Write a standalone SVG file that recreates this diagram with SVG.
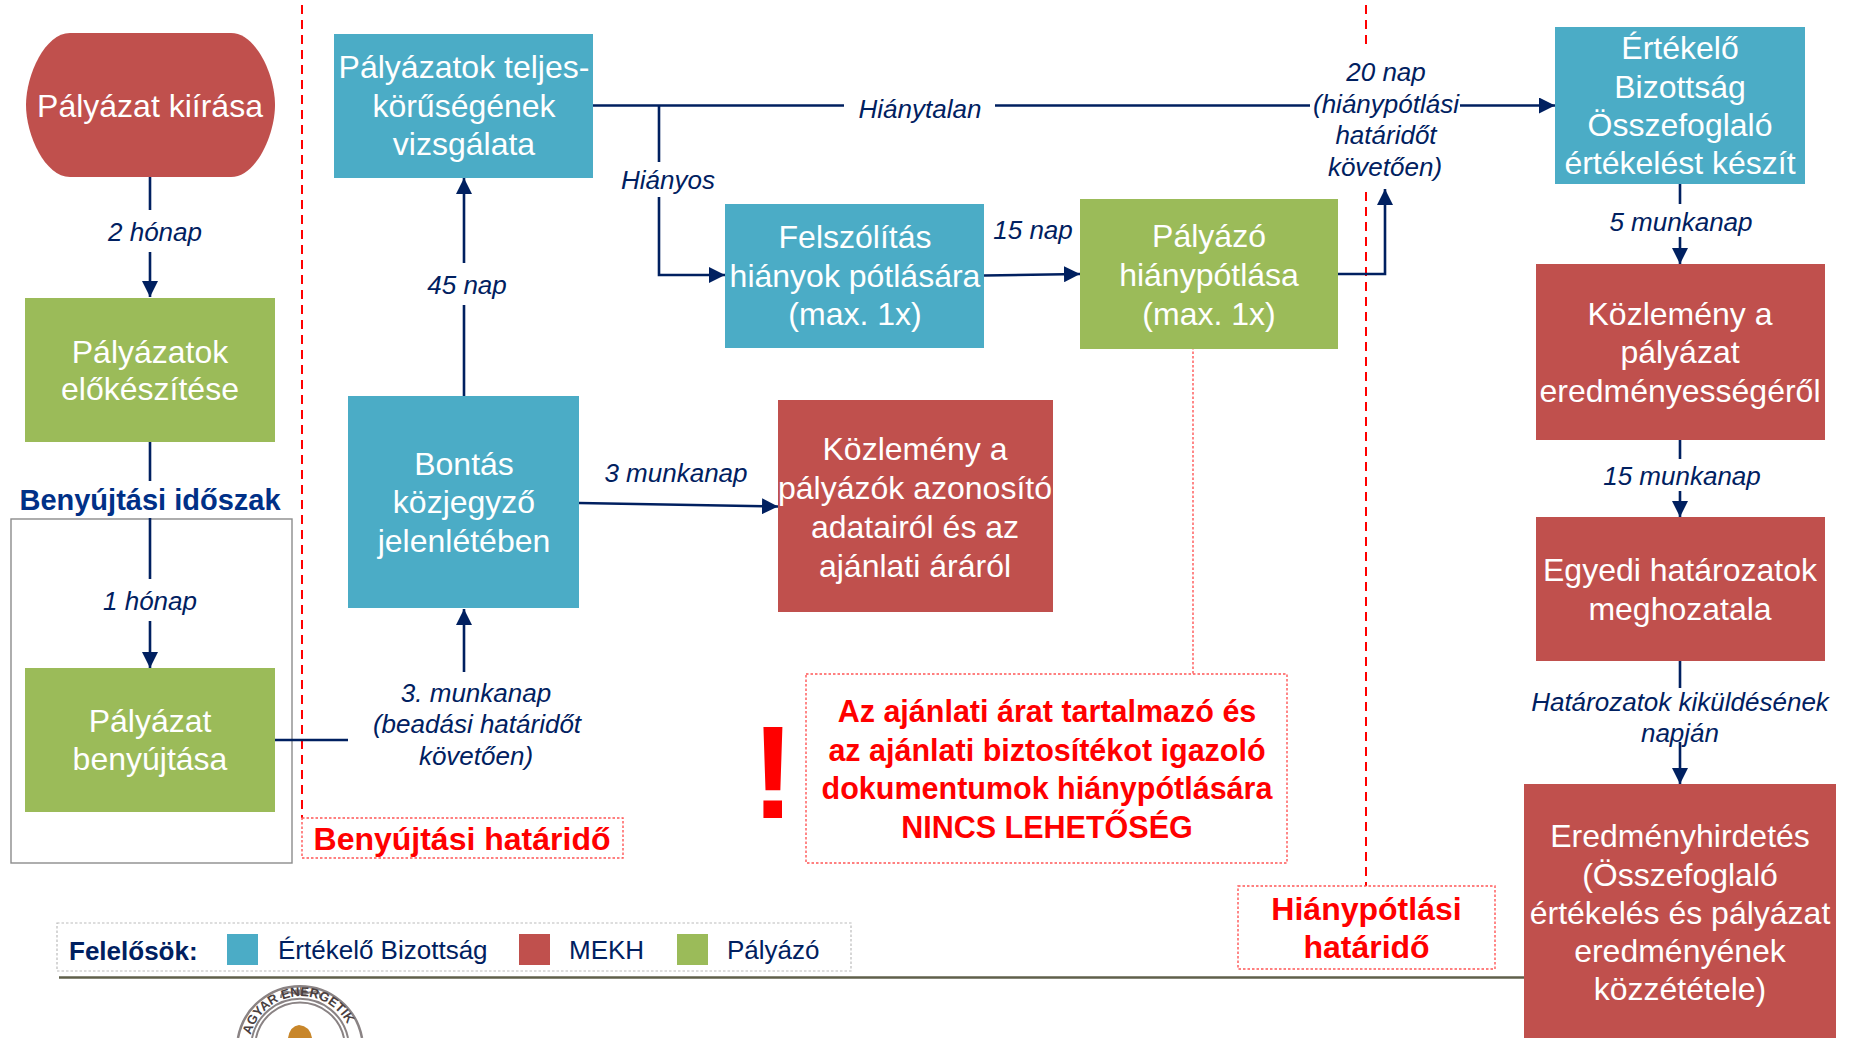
<svg xmlns="http://www.w3.org/2000/svg" width="1858" height="1038" viewBox="0 0 1858 1038">
<style>
.t{font-family:"Liberation Sans",Arial,sans-serif;font-size:32px;fill:#fff;text-anchor:middle}
.l{font-family:"Liberation Sans",Arial,sans-serif;font-size:26px;font-style:italic;fill:#002060;text-anchor:middle}
.r{font-family:"Liberation Sans",Arial,sans-serif;font-size:32px;font-weight:bold;fill:#f00;text-anchor:middle}
.k{font-family:"Liberation Sans",Arial,sans-serif;font-size:26px;fill:#002060}
.c{fill:none;stroke:#002060;stroke-width:2.6}
.blue{fill:#4bacc6}.red{fill:#c0504d}.green{fill:#9bbb59}
.dash{fill:none;stroke:#f00;stroke-width:2;stroke-dasharray:9 6}
.dot{fill:#fff;stroke:#f55;stroke-width:1.4;stroke-dasharray:2.5 2}
</style>
<defs><marker id="a" markerUnits="userSpaceOnUse" markerWidth="16" markerHeight="16" refX="16" refY="8" orient="auto"><path d="M0 0L16 8L0 16Z" fill="#002060"/></marker></defs>
<rect x="11" y="519" width="281" height="344" fill="#fff" stroke="#8c8c8c" stroke-width="1.4"/>
<g id="guides">
<path class="dash" d="M302 5V818"/>
<path class="dash" d="M1366 5V49M1366 192V886"/>
<path d="M1193 347V674" fill="none" stroke="#f55" stroke-width="1.4" stroke-dasharray="2.5 2"/>
</g>
<g id="connectors">
<path class="c" d="M150 177V210M150 252V297" marker-end="url(#a)"/>
<path class="c" d="M150 442V481M150 518V579M150 621V668" marker-end="url(#a)"/>
<path class="c" d="M275 740H348"/>
<path class="c" d="M464 672V609" marker-end="url(#a)"/>
<path class="c" d="M464 396V305M464 263V178" marker-end="url(#a)"/>
<path class="c" d="M579 503L778 506.500" marker-end="url(#a)"/>
<path class="c" d="M593 105.500H844M995 105.500H1310M1460 105.500H1555" marker-end="url(#a)"/>
<path class="c" d="M659 105.500V162M659 197V275H725" marker-end="url(#a)"/>
<path class="c" d="M984 275.500L1080 274" marker-end="url(#a)"/>
<path class="c" d="M1338 274H1385V189" marker-end="url(#a)"/>
<path class="c" d="M1680 184V204M1680 237V264" marker-end="url(#a)"/>
<path class="c" d="M1680 440V459M1680 491V517" marker-end="url(#a)"/>
<path class="c" d="M1680 661V688M1680 742V784" marker-end="url(#a)"/>
</g>
<g id="n1"><path class="red" d="M70 33H231C256 33 275 75 275 105C275 135 256 177 231 177H70C45 177 26 135 26 105C26 75 45 33 70 33Z"/><text class="t" x="150" y="117">Pályázat kiírása</text></g>
<g id="n2"><rect class="green" x="25" y="298" width="250" height="144"/><text class="t" x="150" y="363">Pályázatok</text><text class="t" x="150" y="400">előkészítése</text></g>
<g id="n3"><rect class="green" x="25" y="668" width="250" height="144"/><text class="t" x="150" y="732">Pályázat</text><text class="t" x="150" y="770">benyújtása</text></g>
<g id="n4"><rect class="blue" x="334" y="34" width="259" height="144"/><text class="t" x="464" y="78">Pályázatok teljes-</text><text class="t" x="464" y="117">körűségének</text><text class="t" x="464" y="155">vizsgálata</text></g>
<g id="n5"><rect class="blue" x="348" y="396" width="231" height="212"/><text class="t" x="464" y="475">Bontás</text><text class="t" x="464" y="513">közjegyző</text><text class="t" x="464" y="552">jelenlétében</text></g>
<g id="n6"><rect class="blue" x="725" y="204" width="259" height="144"/><text class="t" x="855" y="248">Felszólítás</text><text class="t" x="855" y="287">hiányok pótlására</text><text class="t" x="855" y="325">(max. 1x)</text></g>
<g id="n7"><rect class="green" x="1080" y="199" width="258" height="150"/><text class="t" x="1209" y="247">Pályázó</text><text class="t" x="1209" y="286">hiánypótlása</text><text class="t" x="1209" y="325">(max. 1x)</text></g>
<g id="n8"><rect class="red" x="778" y="400" width="275" height="212"/><text class="t" x="915" y="460">Közlemény a</text><text class="t" x="915" y="499">pályázók azonosító</text><text class="t" x="915" y="538">adatairól és az</text><text class="t" x="915" y="577">ajánlati áráról</text></g>
<g id="n9"><rect class="blue" x="1555" y="27" width="250" height="157"/><text class="t" x="1680" y="59">Értékelő</text><text class="t" x="1680" y="98">Bizottság</text><text class="t" x="1680" y="136">Összefoglaló</text><text class="t" x="1680" y="174">értékelést készít</text></g>
<g id="n10"><rect class="red" x="1536" y="264" width="289" height="176"/><text class="t" x="1680" y="325">Közlemény a</text><text class="t" x="1680" y="363">pályázat</text><text class="t" x="1680" y="402">eredményességéről</text></g>
<g id="n11"><rect class="red" x="1536" y="517" width="289" height="144"/><text class="t" x="1680" y="581">Egyedi határozatok</text><text class="t" x="1680" y="620">meghozatala</text></g>
<g id="n12"><rect class="red" x="1524" y="784" width="312" height="254"/><text class="t" x="1680" y="847">Eredményhirdetés</text><text class="t" x="1680" y="886">(Összefoglaló</text><text class="t" x="1680" y="924">értékelés és pályázat</text><text class="t" x="1680" y="962">eredményének</text><text class="t" x="1680" y="1000">közzététele)</text></g>
<g id="labels">
<text class="l" x="155" y="241">2 hónap</text>
<text class="l" x="150" y="610">1 hónap</text>
<text class="l" x="476" y="702">3. munkanap</text><text class="l" x="477" y="733">(beadási határidőt</text><text class="l" x="476" y="765">követően)</text>
<text class="l" x="467" y="294">45 nap</text>
<text class="l" x="676" y="482">3 munkanap</text>
<text class="l" x="920" y="118">Hiánytalan</text>
<text class="l" x="668" y="189">Hiányos</text>
<text class="l" x="1033" y="239">15 nap</text>
<text class="l" x="1386" y="81">20 nap</text><text class="l" x="1386" y="113">(hiánypótlási</text><text class="l" x="1386" y="144">határidőt</text><text class="l" x="1385" y="176">követően)</text>
<text class="l" x="1681" y="231">5 munkanap</text>
<text class="l" x="1682" y="485">15 munkanap</text>
<text class="l" x="1680" y="711">Határozatok kiküldésének</text><text class="l" x="1680" y="742">napján</text>
<text x="150" y="510" font-family="Liberation Sans, Arial, sans-serif" font-size="29" font-weight="bold" fill="#003087" text-anchor="middle">Benyújtási időszak</text>
</g>
<g id="deadline1"><rect class="dot" x="302" y="818" width="321" height="40"/><text class="r" x="462" y="850">Benyújtási határidő</text></g>
<g id="deadline2"><rect class="dot" x="1238" y="886" width="257" height="83"/><text class="r" x="1366.500" y="920">Hiánypótlási</text><text class="r" x="1366.500" y="958">határidő</text></g>
<g id="note"><rect class="dot" x="806" y="674" width="481" height="189"/>
<g style="font-size:30.500px"><text class="r" style="font-size:30.500px" x="1047" y="722">Az ajánlati árat tartalmazó és</text><text class="r" style="font-size:30.500px" x="1047" y="761">az ajánlati biztosítékot igazoló</text><text class="r" style="font-size:30.500px" x="1047" y="799">dokumentumok hiánypótlására</text><text class="r" style="font-size:30.500px" x="1047" y="838">NINCS LEHETŐSÉG</text></g>
<text class="r" style="font-size:132px" x="773" y="818">!</text></g>
<g id="legend"><rect x="57" y="923" width="794" height="48" fill="#fff" stroke="#bbb" stroke-width="1.200" stroke-dasharray="2.500 2"/>
<text x="69" y="960" font-family="Liberation Sans, Arial, sans-serif" font-size="26" font-weight="bold" fill="#002060">Felelősök:</text>
<rect class="blue" x="227" y="934" width="31" height="31"/><text class="k" x="278" y="959">Értékelő Bizottság</text>
<rect class="red" x="519" y="934" width="31" height="31"/><text class="k" x="569" y="959">MEKH</text>
<rect class="green" x="677" y="934" width="31" height="31"/><text class="k" x="727" y="959">Pályázó</text></g>
<path d="M59 977.500H1524" fill="none" stroke="#5f5f4a" stroke-width="2.500"/>
<g id="seal" fill="none">
<defs><path id="sa" d="M250 1038A52 52 0 0 1 352 1038"/></defs>
<path d="M238 1038A63 63 0 0 1 362 1038" stroke="#8a8384" stroke-width="2.500"/>
<path d="M252 1038A49 49 0 0 1 348 1038M256 1038A45 45 0 0 1 344 1038" stroke="#8a8384" stroke-width="2"/>
<path d="M281 998Q281 991 288 992Q294 993 297 994H305Q309 992 314 992Q321 991 320 998" stroke="#8a8384" stroke-width="2"/>
<path d="M295 994V990H306V994ZM300.500 986V990" fill="#8a8384" stroke="#8a8384"/>
<text font-family="Liberation Sans, Arial, sans-serif" font-size="13" font-weight="bold" fill="#4a3f3f"><textPath href="#sa" startOffset="3">AGYAR ENERGETIK</textPath></text>
<path d="M288 1038Q290 1026 299 1025Q310 1026 312 1038Z" fill="#c8862a"/>
</g>
</svg>
